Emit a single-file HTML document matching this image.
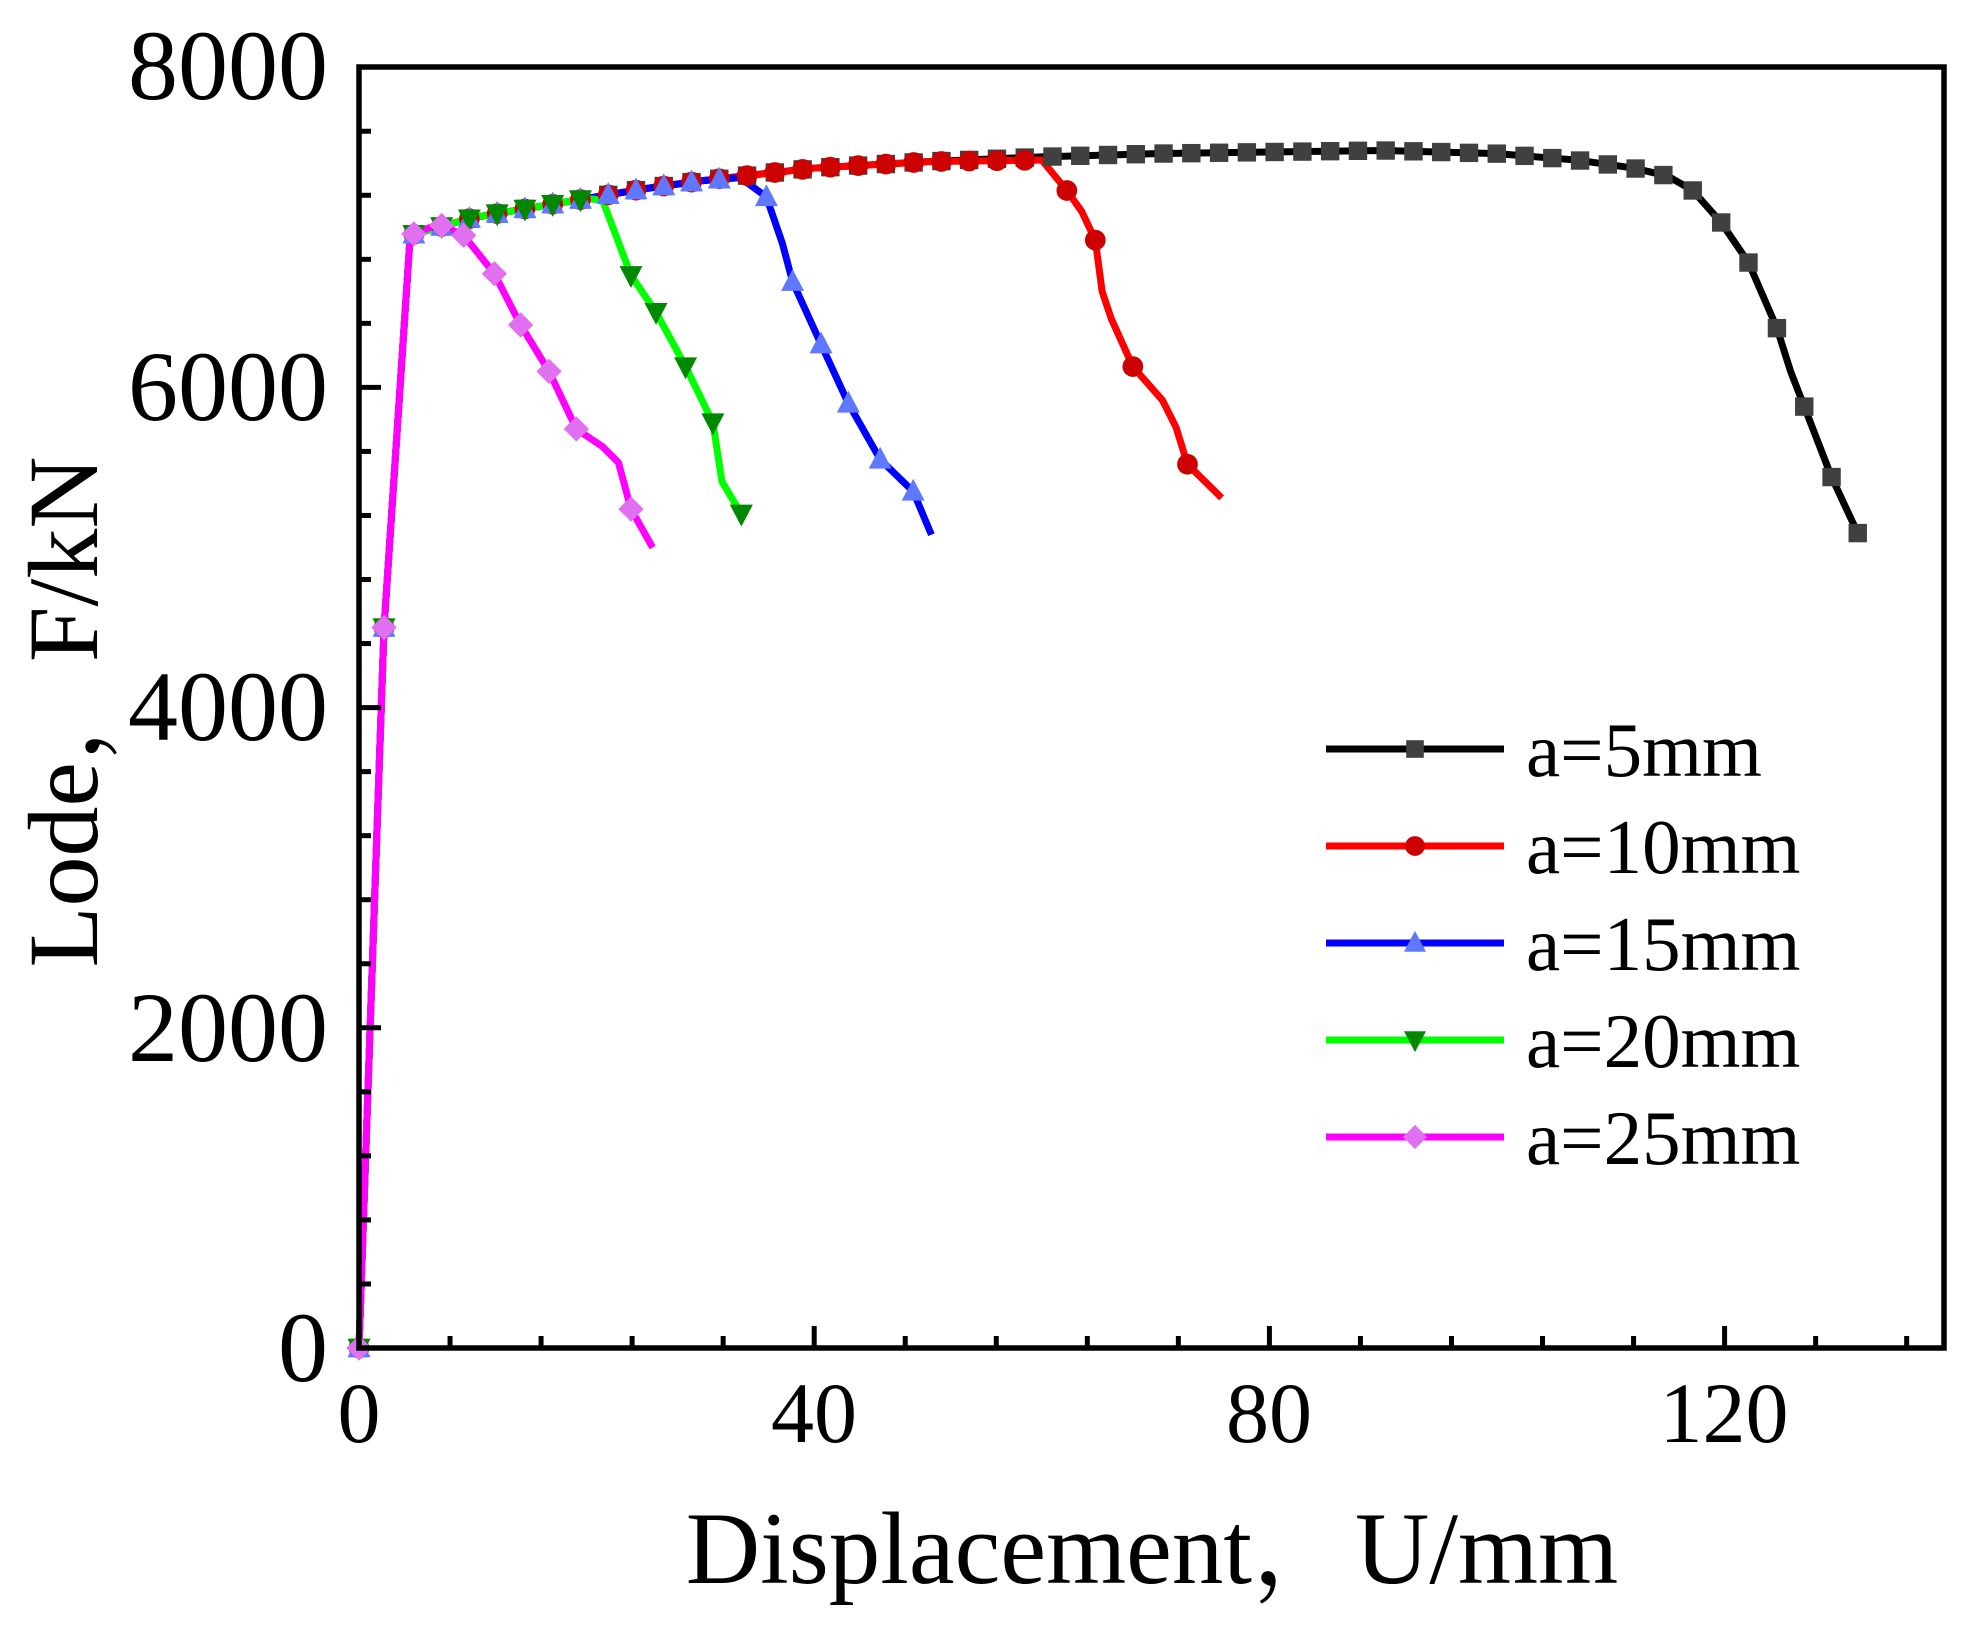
<!DOCTYPE html>
<html><head><meta charset="utf-8"><style>
html,body{margin:0;padding:0;background:#fff;}
svg{display:block;}
text{font-family:"Liberation Serif","Noto Serif CJK SC",serif;fill:#000;}
</style></head><body>
<svg id="s" width="1975" height="1626" viewBox="0 0 1975 1626" xmlns="http://www.w3.org/2000/svg">
<rect width="1975" height="1626" fill="#fff"/>
<g id="series"></g>
<rect x="359" y="67" width="1585" height="1281" fill="none" stroke="#000" stroke-width="5.5"/>
<g id="ticks" stroke="#000" stroke-width="5"></g>
<g font-size="100" text-anchor="end">
<text x="328" y="1381">0</text>
<text x="328" y="1061">2000</text>
<text x="328" y="740">4000</text>
<text x="328" y="420">6000</text>
<text x="328" y="99">8000</text>
</g>
<g font-size="86" text-anchor="middle">
<text x="359" y="1442">0</text>
<text x="814" y="1442">40</text>
<text x="1269" y="1442">80</text>
<text x="1724" y="1442">120</text>
</g>
<text x="1152" y="1583" font-size="103" text-anchor="middle">Displacement，U/mm</text>
<text transform="translate(97,712) rotate(-90)" font-size="100" text-anchor="middle">Lode，F/kN</text>
<g id="legend"></g>
<g font-size="77">
<text x="1526" y="776">a=5mm</text>
<text x="1526" y="873">a=10mm</text>
<text x="1526" y="970">a=15mm</text>
<text x="1526" y="1067">a=20mm</text>
<text x="1526" y="1164">a=25mm</text>
</g>
</svg>
<script>
var NS="http://www.w3.org/2000/svg";
function X(x){return 359+11.38*x;}
function Y(y){return 1348-160.1*y;}
function el(t,a,p){var e=document.createElementNS(NS,t);for(var k in a)e.setAttribute(k,a[k]);p.appendChild(e);return e;}
var tk=document.getElementById('ticks');
for(var i=1;i<20;i++){var v=i*0.4;var L=(i%5==0)?22:12;el('line',{x1:359,x2:359+L,y1:Y(v),y2:Y(v)},tk);}
for(var i=1;i<18;i++){var v=i*8;var L=(i%5==0)?22:12;if(X(v)<1944)el('line',{x1:X(v),x2:X(v),y1:1348,y2:1348-L},tk);}
var plat=[[0,0],[2.2,4.5],[4.5,6.95],[7,7.0],[10,7.06],[15,7.12],[20,7.18],[25,7.24],[30,7.29],[35,7.33],[40,7.37],[50,7.41],[60,7.44],[70,7.46],[80,7.47],[90,7.48],[100,7.46],[107,7.42],[112,7.37],[115,7.32]];
function platTo(x){var o=[];for(var i=0;i<plat.length;i++){if(plat[i][0]<x)o.push(plat[i]);}return o;}
function interp(pts,x){for(var i=1;i<pts.length;i++){if(x<=pts[i][0]){var a=pts[i-1],b=pts[i];return a[1]+(b[1]-a[1])*(x-a[0])/(b[0]-a[0]);}}return pts[pts.length-1][1];}
var S=[
{c:'#000',m:'#404040',t:'sq',end:115,drop:[[115,7.32],[117.2,7.23],[119.7,7.03],[122.1,6.78],[124.6,6.37],[125.8,6.1],[127,5.88],[129.4,5.44],[131.7,5.09]],dm:[117.2,119.7,122.1,124.6,127,129.4,131.7]},
{c:'#ff0000',m:'#cc0000',t:'ci',end:60,drop:[[60,7.42],[62.2,7.23],[63.5,7.1],[64.7,6.92],[65.3,6.6],[66.1,6.43],[68,6.13],[70.6,5.92],[71.8,5.75],[72.8,5.52],[75.8,5.31]],dm:[62.2,64.7,68,72.8]},
{c:'#0000ff',m:'#6078ff',t:'tu',end:33.5,drop:[[33.5,7.31],[35.8,7.19],[37.2,6.9],[38.1,6.66],[40.6,6.27],[43,5.9],[45.8,5.55],[48.7,5.35],[50.3,5.08]],dm:[35.8,38.1,40.6,43,45.8,48.7]},
{c:'#00ff00',m:'#008800',t:'td',end:21.4,drop:[[21.4,7.17],[23.9,6.7],[26.1,6.47],[28.7,6.13],[31.1,5.78],[31.9,5.41],[33.6,5.21]],dm:[23.9,26.1,28.7,31.1,33.6]},
{c:'#ff00ff',m:'#e070f0',t:'di',end:7,drop:[[7,7.02],[9.2,6.95],[11.9,6.71],[14.2,6.39],[16.7,6.1],[19.1,5.74],[21.4,5.63],[22.8,5.53],[23.9,5.24],[25.8,5.0]],dm:[9.2,11.9,14.2,16.7,19.1,23.9]}
];
function mk(t,x,y,col,g,s){s=s||1.15;
 if(t=='sq')el('rect',{x:x-8*s,y:y-8*s,width:16*s,height:16*s,fill:col},g);
 else if(t=='ci')el('circle',{cx:x,cy:y,r:9*s,fill:col},g);
 else if(t=='tu')el('polygon',{points:(x)+','+(y-11*s)+' '+(x-10*s)+','+(y+8*s)+' '+(x+10*s)+','+(y+8*s),fill:col},g);
 else if(t=='td')el('polygon',{points:(x)+','+(y+11*s)+' '+(x-10*s)+','+(y-8*s)+' '+(x+10*s)+','+(y-8*s),fill:col},g);
 else el('polygon',{points:x+','+(y-11*s)+' '+(x+11*s)+','+y+' '+x+','+(y+11*s)+' '+(x-11*s)+','+y,fill:col},g);}
var g=document.getElementById('series');
S.forEach(function(s){
 var pts=platTo(s.end).concat(s.drop);
 el('polyline',{points:pts.map(function(p){return X(p[0])+','+Y(p[1]);}).join(' '),fill:'none',stroke:s.c,'stroke-width':7,'stroke-linejoin':'round'},g);
});
S.forEach(function(s){
 var pts=platTo(s.end).concat(s.drop);
 mk(s.t,X(0),Y(0),s.m,g);mk(s.t,X(2.2),Y(4.5),s.m,g);
 for(var x=131.7;x>4;x-=2.44){if(x<=s.end+0.3)mk(s.t,X(x),Y(interp(pts,x)),s.m,g);}
 s.dm.forEach(function(x){mk(s.t,X(x),Y(interp(pts,x)),s.m,g);});
});
var lg=document.getElementById('legend');
S.forEach(function(s,i){var y=749+97*i;el('line',{x1:1326,x2:1504,y1:y,y2:y,stroke:s.c,'stroke-width':7},lg);mk(s.t,1415,y,s.m,lg,1.1);});
</script>
</body></html>
